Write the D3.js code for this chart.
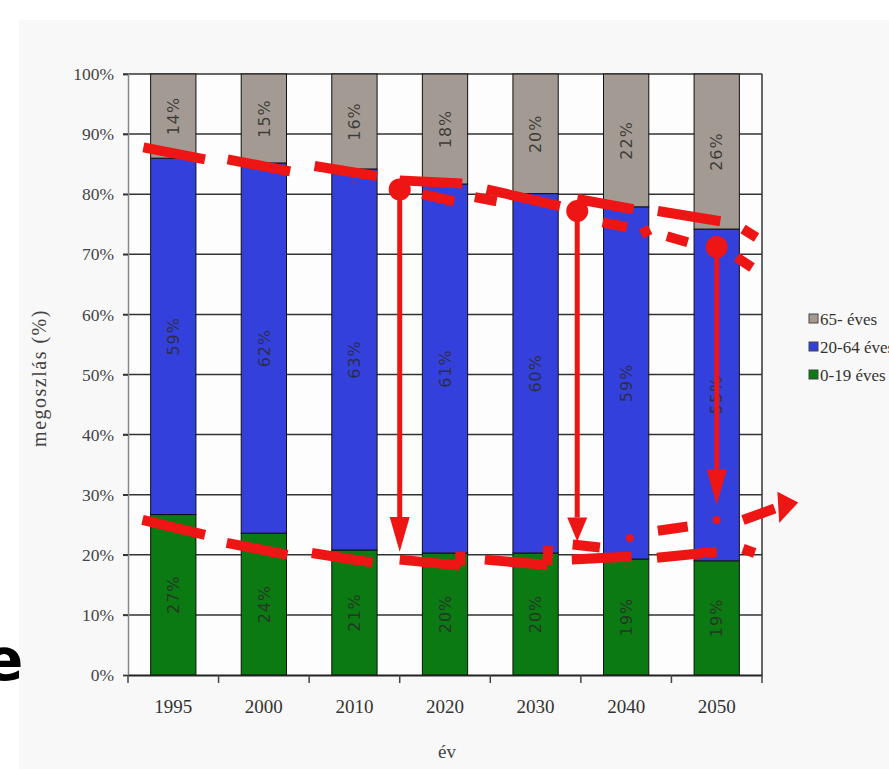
<!DOCTYPE html>
<html>
<head>
<meta charset="utf-8">
<script src="https://cdn.jsdelivr.net/npm/d3@7"></script>
<style>
  body { margin: 0; background: #fff; }
  svg { display: block; }
</style>
</head>
<body>
<script>
// Korcsoportok megoszlása (%), évenként
var years = ["1995", "2000", "2010", "2020", "2030", "2040", "2050"];
var young   = [26.7, 23.6, 20.8, 20.3, 20.3, 19.3, 19.0];   // 0-19 éves
var working = [59.3, 61.6, 63.4, 61.4, 59.8, 58.6, 55.2];   // 20-64 éves
var old     = [14.0, 14.8, 15.8, 18.3, 19.9, 22.1, 25.8];   // 65- éves
var yTicks  = [0, 10, 20, 30, 40, 50, 60, 70, 80, 90, 100];
var keys    = ["young", "working", "old"];
var legendNames = {old: "65- éves", working: "20-64 éves", young: "0-19 éves"};
var colors  = {young: "#0b7a12", working: "#3440dc", old: "#a39b93"};

// Kézzel rajzolt piros jelölések, (sávindex, %) egységekben
var upperDash = [[0.17,87.8,0.85,85.8],[1.10,85.8,1.79,83.8],[2.06,84.7,2.75,83.0],
                 [3.0,82.3,3.69,81.8],[3.25,80.0,3.6,78.8],[3.83,79.5,4.07,78.8],
                 [3.96,80.8,4.77,78.0],[4.96,79.2,5.58,77.5],[5.24,75.3,5.51,74.5],
                 [5.69,74.5,5.74,73.0],[5.85,77.2,6.54,75.5],[5.95,73.0,6.18,72.0],
                 [6.79,74.2,6.94,72.8],[6.72,69.5,6.89,67.8]];
var lowerDash = [[0.16,25.8,0.85,23.3],[1.09,22.0,1.76,20.0],[2.03,20.3,2.70,18.7],
                 [3.0,19.2,3.67,18.2],[3.67,18.2,3.67,20.5],[3.94,19.2,4.63,18.3],
                 [4.63,18.3,4.64,21.5],[4.91,21.7,5.21,21.2],[4.90,19.2,5.56,19.7],
                 [5.85,24.0,6.18,24.7],[5.84,19.5,6.50,20.5],[6.79,21.0,6.92,20.3],
                 [6.79,25.8,7.14,27.7]];
var arrows  = [[3.0,80.8,20.5,26.3],[4.96,77.2,22.2,26.2],[6.5,71.2,28.3,34.2]]; // u, from, tip, head base
var knobs   = [[3.0,80.8],[4.96,77.2],[6.5,71.2]];
var dots    = [[5.54,22.8],[6.5,25.8]];
var rightHead = [[7.40,28.7],[7.17,30.5],[7.19,25.3]];

var W = 889, H = 769;
var pLeft = 128, pRight = 762, pTop = 74, pBottom = 675;

var svg = d3.select("body").append("svg").attr("width", W).attr("height", H);

svg.append("rect").attr("x", 19).attr("y", 20).attr("width", W - 19).attr("height", H - 20).attr("fill", "#f8f8f8");
svg.append("rect").attr("x", pLeft).attr("y", pTop).attr("width", pRight - pLeft).attr("height", pBottom - pTop).attr("fill", "#fdfdfd");

var x = d3.scaleBand().domain(years).range([pLeft, pRight]).paddingInner(0.5).paddingOuter(0.25);
var u = d3.scaleLinear().domain([0, 7]).range([pLeft, pRight]);
var y = d3.scaleLinear().domain([0, 100]).range([pBottom, pTop]);

var rows = years.map(function(d, i){ return {year: d, young: young[i], working: working[i], old: old[i]}; });
var series = d3.stack().keys(keys)(rows);

// Rácsvonalak
svg.append("g").selectAll("line").data(yTicks.slice(1)).join("line")
   .attr("x1", pLeft - 5).attr("x2", pRight)
   .attr("y1", function(d){ return y(d); }).attr("y2", function(d){ return y(d); })
   .attr("stroke", "#333").attr("stroke-width", 1.5);
svg.append("line").attr("x1", pRight).attr("x2", pRight).attr("y1", pTop).attr("y2", pBottom)
   .attr("stroke", "#333").attr("stroke-width", 1.5);

// Y tengely
var yAxis = svg.append("g").attr("transform", "translate(" + pLeft + ",0)")
   .call(d3.axisLeft(y).tickValues(yTicks).tickSize(5).tickPadding(9).tickFormat(function(d){ return d + "%"; }));
yAxis.select(".domain").attr("stroke", "#888").attr("stroke-width", 1.5);
yAxis.selectAll(".tick line").attr("stroke", "#333").attr("stroke-width", 1.5);
yAxis.selectAll("text").attr("font-family", "Liberation Serif").attr("font-size", 17.5).attr("fill", "#444");

// Oszlopok
svg.append("g").selectAll("g").data(series).join("g")
   .attr("fill", function(d){ return colors[d.key]; })
   .selectAll("rect").data(function(d){ return d; }).join("rect")
   .attr("x", function(d){ return x(d.data.year); })
   .attr("width", x.bandwidth())
   .attr("y", function(d){ return y(d[1]); })
   .attr("height", function(d){ return y(d[0]) - y(d[1]); })
   .attr("stroke", "#111").attr("stroke-width", 1);

// X tengely
var xAxis = svg.append("g").attr("transform", "translate(0," + pBottom + ")")
   .call(d3.axisBottom(x).tickSize(0).tickPadding(25));
xAxis.select(".domain").attr("stroke", "#222").attr("stroke-width", 2);
xAxis.selectAll("text").attr("font-family", "Liberation Serif").attr("font-size", 19).attr("fill", "#333");
svg.append("g").selectAll("line").data(d3.range(8)).join("line")
   .attr("x1", function(d){ return u(d); }).attr("x2", function(d){ return u(d); })
   .attr("y1", pBottom).attr("y2", pBottom + 8)
   .attr("stroke", "#444").attr("stroke-width", 1.5);

// Feliratok az oszlopokon
svg.append("g").selectAll("g").data(series).join("g")
   .selectAll("text").data(function(d){ return d; }).join("text")
   .attr("transform", function(d){
      return "translate(" + (x(d.data.year) + x.bandwidth() / 2) + "," + ((y(d[0]) + y(d[1])) / 2) + ") rotate(-90)";
   })
   .attr("text-anchor", "middle").attr("dy", "0.36em")
   .attr("font-family", "DejaVu Sans").attr("font-size", 16).attr("letter-spacing", 1)
   .attr("fill", "#2a2a2a").attr("fill-opacity", 0.85)
   .text(function(d){ return Math.round(d[1] - d[0]) + "%"; });

// Tengelycímek
svg.append("text").attr("transform", "translate(46,378) rotate(-90)")
   .attr("text-anchor", "middle").attr("font-family", "Liberation Serif").attr("font-size", 20)
   .attr("letter-spacing", 1.5).attr("fill", "#444")
   .text("megoszlás (%)");
svg.append("text").attr("x", 447).attr("y", 758).attr("text-anchor", "middle")
   .attr("font-family", "Liberation Serif").attr("font-size", 19).attr("fill", "#444").text("év");

// Jelmagyarázat
var legend = svg.append("g").selectAll("g").data(["old", "working", "young"]).join("g")
   .attr("transform", function(d, i){ return "translate(809," + (319 + i * 28) + ")"; });
legend.append("rect").attr("x", 0).attr("y", -5).attr("width", 9).attr("height", 9)
   .attr("fill", function(d){ return colors[d]; }).attr("stroke", "#444").attr("stroke-width", 1);
legend.append("text").attr("x", 11).attr("dy", "0.34em")
   .attr("font-family", "Liberation Serif").attr("font-size", 17).attr("fill", "#333")
   .text(function(d){ return legendNames[d]; });

// Piros jelölések
var red = "#ee1515";
var ann = svg.append("g");
ann.selectAll("line.dash").data(upperDash.concat(lowerDash)).join("line").attr("class", "dash")
   .attr("x1", function(d){ return u(d[0]); }).attr("y1", function(d){ return y(d[1]); })
   .attr("x2", function(d){ return u(d[2]); }).attr("y2", function(d){ return y(d[3]); })
   .attr("stroke", red).attr("stroke-width", 10);
ann.selectAll("line.shaft").data(arrows).join("line").attr("class", "shaft")
   .attr("x1", function(d){ return u(d[0]); }).attr("x2", function(d){ return u(d[0]); })
   .attr("y1", function(d){ return y(d[1]); }).attr("y2", function(d){ return y(d[3]); })
   .attr("stroke", red).attr("stroke-width", 5);
ann.selectAll("path.head").data(arrows).join("path").attr("class", "head")
   .attr("d", function(d){
      var cx = u(d[0]);
      return "M" + (cx - 10) + "," + y(d[3]) + "L" + (cx + 10) + "," + y(d[3]) + "L" + cx + "," + y(d[2]) + "Z";
   })
   .attr("fill", red);
ann.selectAll("circle.knob").data(knobs).join("circle").attr("class", "knob")
   .attr("cx", function(d){ return u(d[0]); }).attr("cy", function(d){ return y(d[1]); })
   .attr("r", 11).attr("fill", red);
ann.selectAll("circle.dot").data(dots).join("circle").attr("class", "dot")
   .attr("cx", function(d){ return u(d[0]); }).attr("cy", function(d){ return y(d[1]); })
   .attr("r", 4).attr("fill", red);
ann.append("path")
   .attr("d", "M" + rightHead.map(function(p){ return u(p[0]) + "," + y(p[1]); }).join("L") + "Z")
   .attr("fill", red);

// A bal szélen levágott betű
svg.append("text").attr("x", -16).attr("y", 680)
   .attr("font-family", "DejaVu Sans").attr("font-weight", "bold").attr("font-size", 58).attr("fill", "#000")
   .text("e");
</script>
</body>
</html>
